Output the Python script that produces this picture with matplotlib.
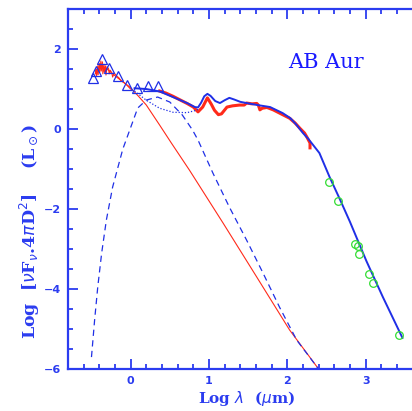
import matplotlib
matplotlib.use("Agg")
import matplotlib.pyplot as plt
from matplotlib.ticker import MultipleLocator

# photometry (open triangles) and mm points (open circles)
tri_x = [-0.485, -0.447, -0.37, -0.27, -0.166, -0.05, 0.077, 0.217, 0.345]
tri_y = [1.275, 1.45, 1.75, 1.525, 1.325, 1.1, 1.025, 1.075, 1.075]
mm_x = [2.53, 2.65, 2.87, 2.90, 2.92, 3.04, 3.10, 3.42]
mm_y = [-1.325, -1.8, -2.875, -2.925, -3.125, -3.625, -3.85, -5.15]

# UV spectrum (spiky)
uv_x = [-0.45, -0.44, -0.435, -0.42, -0.415, -0.40, -0.395, -0.38, -0.375, -0.36, -0.355,
        -0.34, -0.335, -0.32, -0.315, -0.30, -0.28, -0.275, -0.26, -0.24, -0.23, -0.21,
        -0.18, -0.15, -0.12, -0.09, -0.06, -0.03, 0.0]
uv_y = [1.38, 1.5, 1.32, 1.58, 1.36, 1.64, 1.42, 1.7, 1.45, 1.68, 1.38,
        1.62, 1.42, 1.58, 1.35, 1.56, 1.5, 1.38, 1.47, 1.4, 1.3, 1.4,
        1.33, 1.28, 1.2, 1.17, 1.12, 1.06, 1.0]

# IR spectrum
ir_x = [0.37, 0.45, 0.54, 0.62, 0.72, 0.80, 0.86, 0.92, 0.98, 1.03, 1.07, 1.12, 1.16,
        1.23, 1.30, 1.39, 1.45, 1.48, 1.55, 1.61, 1.63, 1.65, 1.68, 1.74, 1.82, 1.90,
        1.97, 2.03, 2.10, 2.16, 2.22, 2.25, 2.29, 2.29]
ir_y = [0.95, 0.9, 0.82, 0.74, 0.64, 0.55, 0.43, 0.55, 0.78, 0.62, 0.47, 0.36, 0.38,
        0.55, 0.58, 0.6, 0.6, 0.65, 0.63, 0.64, 0.6, 0.48, 0.52, 0.54, 0.48, 0.4,
        0.33, 0.27, 0.15, 0.02, -0.1, -0.2, -0.35, -0.47]

# stellar photosphere
star_x = [-0.42, -0.3, -0.18, -0.01, 0.1, 0.2, 0.37, 0.52, 0.75, 1.18, 1.61, 2.03, 2.40]
star_y = [1.62, 1.5, 1.3, 1.05, 0.82, 0.6, 0.1, -0.35, -1.025, -2.35, -3.7, -5.025, -6.0]

# total model
tot_x = [0.05, 0.2, 0.37, 0.54, 0.72, 0.82, 0.86, 0.9, 0.94, 0.98, 1.02, 1.08, 1.14,
         1.2, 1.26, 1.32, 1.40, 1.48, 1.62, 1.78, 1.94, 2.04, 2.12, 2.20, 2.27, 2.41,
         2.54, 2.67, 2.80, 3.01, 3.22, 3.47]
tot_y = [1.02, 1.0, 0.94, 0.8, 0.65, 0.55, 0.54, 0.66, 0.82, 0.88, 0.83, 0.7, 0.65,
         0.72, 0.78, 0.74, 0.68, 0.65, 0.6, 0.55, 0.4, 0.27, 0.1, -0.1, -0.25, -0.6,
         -1.2, -1.75, -2.32, -3.3, -4.2, -5.22]

# disk component (dashed)
disk_x = [-0.5, -0.46, -0.42, -0.37, -0.31, -0.23, -0.1, 0.03, 0.09, 0.2, 0.345, 0.5,
          0.66, 0.79, 0.86, 1.05, 1.26, 1.48, 1.69, 1.90, 2.12, 2.39]
disk_y = [-5.7, -4.775, -3.95, -3.1, -2.275, -1.45, -0.5, 0.2, 0.525, 0.725, 0.8, 0.675,
          0.35, -0.025, -0.275, -1.1, -1.95, -2.775, -3.6, -4.45, -5.275, -5.975]

# star + envelope (dotted)
dot_x = [0.05, 0.2, 0.37, 0.54, 0.72, 0.84, 0.88]
dot_y = [0.95, 0.72, 0.52, 0.42, 0.41, 0.47, 0.52]

x_ticks = [0, 1, 2, 3]

axcol = "#2b3cf0"
blue = "#1f2fe6"
red = "#ff2a1a"
green = "#33dd33"

fig = plt.figure(figsize=(4.12, 4.11), dpi=100)
ax = fig.add_axes([0.165, 0.102, 0.9126, 0.876])

ax.plot(star_x, star_y, color=red, lw=0.8)
ax.plot(uv_x, uv_y, color=red, lw=0.8)
ax.plot(ir_x, ir_y, color=red, lw=2.2)
ax.plot(disk_x, disk_y, color=blue, lw=0.9, ls=(0, (5, 3.5)))
ax.plot(dot_x, dot_y, color=blue, lw=0.9, ls=(0, (1, 1.5)))
ax.plot(tot_x, tot_y, color=blue, lw=1.4)
ax.plot(tri_x, tri_y, ls="none", marker="^", ms=6.5, mfc="none", mec=blue, mew=0.9)
ax.plot(mm_x, mm_y, ls="none", marker="o", ms=5.5, mfc="none", mec=green, mew=0.9)

ax.text(2.01, 1.66, "AB Aur", color="#1a1aff", fontsize=15, family="DejaVu Serif",
        ha="left", va="center")

ax.set_xlim(-0.8, 4.0)
ax.set_ylim(-6, 3)
ax.set_xticks(x_ticks)
ax.xaxis.set_minor_locator(MultipleLocator(0.2))
ax.yaxis.set_major_locator(MultipleLocator(2))
ax.yaxis.set_minor_locator(MultipleLocator(0.5))
ax.tick_params(which="both", direction="in", top=True, right=True, color=axcol,
               labelcolor=axcol, labelsize=8, width=1.3)
ax.tick_params(which="major", length=7, pad=5)
ax.tick_params(which="minor", length=3.5)
for lab in ax.get_xticklabels() + ax.get_yticklabels():
    lab.set_fontweight("bold")
for sp in ax.spines.values():
    sp.set_color(axcol)
    sp.set_linewidth(1.6)

ax.set_xlabel(r"Log $\lambda$  ($\mu$m)", color=axcol, fontsize=11, fontweight="bold",
              family="DejaVu Serif")
ax.xaxis.set_label_coords(0.476, -0.056)
ax.set_ylabel(r"Log  [$\nu$F$_\nu$.4$\pi$D$^2$]    (L$_\odot$)", color=axcol,
              fontsize=12.5, fontweight="bold", family="DejaVu Serif")
ax.yaxis.set_label_coords(-0.068, 0.383)

fig.savefig("out.png", dpi=100)
